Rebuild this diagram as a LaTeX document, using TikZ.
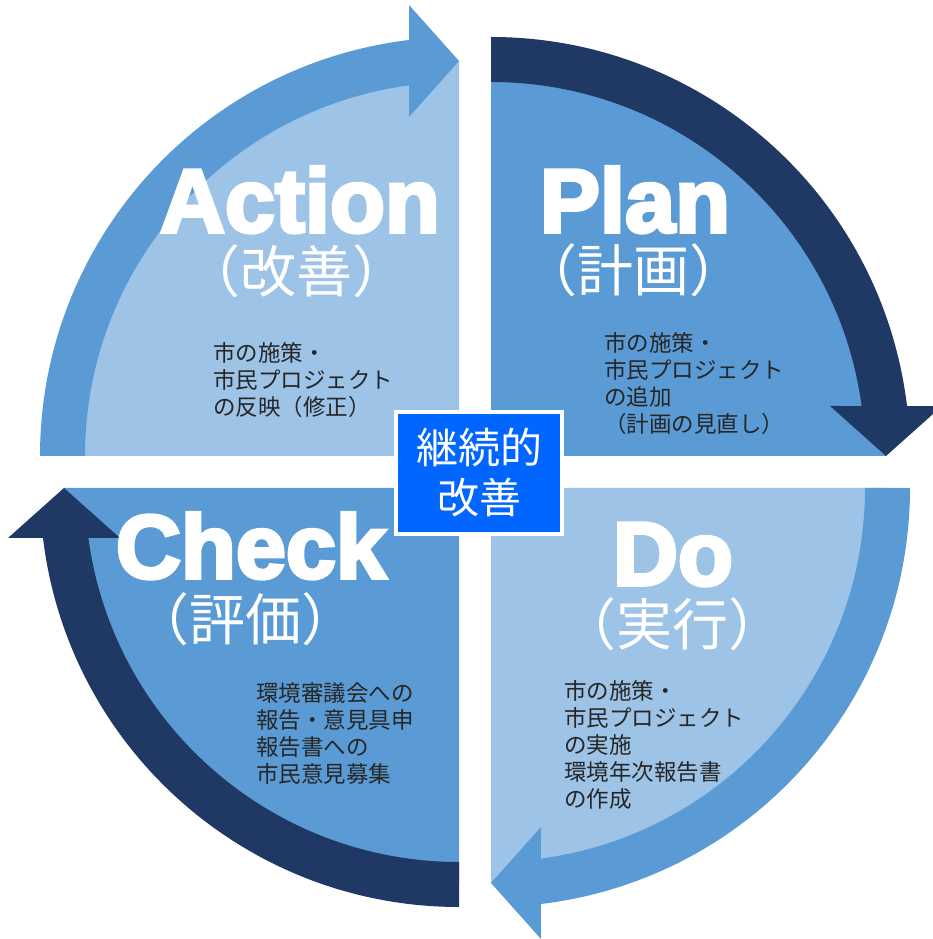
\documentclass[tikz,border=0pt]{standalone}
\usepackage{fontspec}
\setmainfont{Noto Sans CJK JP}
\newfontfamily\titlefont[BoldFeatures={FakeBold=4}]{Liberation Sans}
\definecolor{pdcaLight}{RGB}{157,195,230}
\definecolor{pdcaMid}{RGB}{91,155,213}
\definecolor{pdcaDark}{RGB}{31,56,100}
\definecolor{pdcaCore}{RGB}{0,102,255}
\definecolor{pdcaText}{RGB}{38,38,38}

\begin{document}
\begin{tikzpicture}[
  x=1pt, y=1pt,
  phase/.style={
    text=white,
    font=\titlefont\bfseries\fontsize{90}{90}\selectfont,
    anchor=base,
    inner sep=0
  },
  phasejp/.style={
    text=white,
    font=\fontsize{56}{56}\selectfont,
    text height=42pt,
    anchor=base,
    inner sep=0
  },
  memo/.style={
    text=pdcaText,
    font=\fontsize{22.5}{27}\selectfont,
    anchor=north west,
    align=left,
    inner sep=0
  },
  core/.style={
    draw=white,
    line width=4pt,
    fill=pdcaCore,
    text=white,
    minimum width=166pt,
    minimum height=122pt,
    align=center,
    font=\fontsize{42}{50}\selectfont
  }
]
  \useasboundingbox (0,0) rectangle (932,939);
  \foreach \cx/\cy/\turn/\inside/\ring in
    {459/483/0/pdcaLight/pdcaMid, 491/483/-90/pdcaMid/pdcaDark,
     491/451/-180/pdcaLight/pdcaMid, 459/451/90/pdcaMid/pdcaDark}{
    \begin{scope}[shift={(\cx,\cy)}, rotate=\turn]
      \fill[\inside] (0,0) -- (180:395)
        arc[start angle=180, end angle=90, radius=395] -- cycle;
      \fill[\ring] (180:374) -- (180:419)
        arc[start angle=180, end angle=96.85, radius=419]
        -- (-50,451) -- (0,395) -- (-50,339) -- (97.68:374)
        arc[start angle=97.68, end angle=180, radius=374] -- cycle;
    \end{scope}
  }

  \node[phase] (action) at (300,707) {Action};
  \node[phasejp] (actionjp) at (296,646) {（改善）};
  \node[phase] (plan) at (635,707) {Plan};
  \node[phasejp] (planjp) at (633,647) {（計画）};
  \node[phase] (check) at (251,361) {Check};
  \node[phasejp] (checkjp) at (245,298) {（評価）};
  \node[phase] (do) at (673,354) {Do};
  \node[phasejp] (dojp) at (672,293) {（実行）};

  \node[memo] (actionmemo) at (213,597)
    {市の施策・\\市民プロジェクト\\の反映（修正）};
  \node[memo] (planmemo) at (604,607)
    {市の施策・\\市民プロジェクト\\の追加\\（計画の見直し）};
  \node[memo] (domemo) at (564,259)
    {市の施策・\\市民プロジェクト\\の実施\\環境年次報告書\\の作成};
  \node[memo] (checkmemo) at (256,257)
    {環境審議会への\\報告・意見具申\\報告書への\\市民意見募集};

  \node[core] (kaizen) at (479,466) {継続的\\改善};
\end{tikzpicture}
\end{document}
